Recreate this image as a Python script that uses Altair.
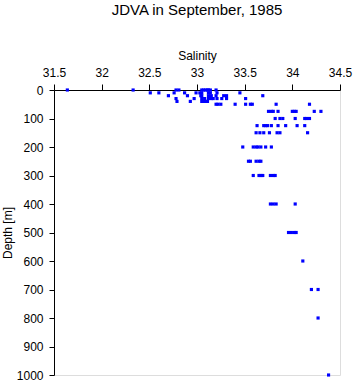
import altair as alt
import pandas as pd

# Depth levels (m) and salinity readings at each level
depth_levels = [0, 10, 20, 30, 40, 50, 75, 100, 125, 150, 200, 250, 300, 400, 500, 600, 700, 800, 1000]
sal_0 = [31.64, 32.33, 32.78, 32.81, 33.05, 33.07, 33.09, 33.11, 33.12, 33.14, 33.2]
sal_10 = [32.51, 32.6, 32.76, 32.87, 32.99, 33.03, 33.05, 33.12, 33.14, 33.21, 33.45]
sal_20 = [32.7, 32.9, 33.04, 33.05, 33.12, 33.15, 33.2, 33.28, 33.31, 33.69]
sal_30 = [32.78, 32.97, 33.05, 33.08, 33.12, 33.15, 33.17, 33.21, 33.26, 33.31, 33.51]
sal_40 = [32.79, 32.93, 33.05, 33.07, 33.09, 33.11]
sal_50 = [33.2, 33.22, 33.25, 33.4, 33.51, 33.56, 33.58, 33.83, 34.18]
sal_75 = [33.75, 33.78, 33.8, 33.85, 34.0, 34.02, 34.04, 34.23, 34.3]
sal_100 = [33.82, 33.87, 33.9, 34.03, 34.13, 34.15, 34.18]
sal_125 = [33.63, 33.7, 33.72, 33.74, 33.78, 33.85, 33.93, 34.05, 34.13]
sal_150 = [33.62, 33.66, 33.7, 33.76, 33.84, 33.87, 34.16]
sal_200 = [33.48, 33.59, 33.62, 33.64, 33.67, 33.72, 33.78]
sal_250 = [33.54, 33.56, 33.62, 33.65, 33.67]
sal_300 = [33.59, 33.65, 33.67, 33.69, 33.77, 33.8, 33.82]
sal_400 = [33.77, 33.8, 33.83, 34.03]
sal_500 = [33.96, 33.99, 34.02, 34.04]
sal_600 = [34.11]
sal_700 = [34.2, 34.27]
sal_800 = [34.27]
sal_1000 = [34.38]

sal_by_level = [sal_0, sal_10, sal_20, sal_30, sal_40, sal_50, sal_75, sal_100, sal_125,
                sal_150, sal_200, sal_250, sal_300, sal_400, sal_500, sal_600, sal_700,
                sal_800, sal_1000]

x_ticks = [31.5, 32, 32.5, 33, 33.5, 34, 34.5]
y_ticks = [0, 100, 200, 300, 400, 500, 600, 700, 800, 900, 1000]

rows = []
for d, sals in zip(depth_levels, sal_by_level):
    for s in sals:
        rows.append({"Salinity": s, "Depth": d})
df = pd.DataFrame(rows)

FONT = "Liberation Sans"

chart = alt.Chart(df).mark_square(size=10, color="#0000FF", opacity=1, filled=True).encode(
    x=alt.X("Salinity:Q",
            scale=alt.Scale(domain=[31.5, 34.5], nice=False, zero=False),
            axis=alt.Axis(orient="top", title="Salinity", values=x_ticks, format="~g",
                          grid=False, domainColor="black", tickColor="black",
                          tickSize=6, labelPadding=5, titlePadding=4,
                          labelFontSize=12, titleFontSize=12, labelFont=FONT, titleFont=FONT,
                          titleFontWeight="normal", labelColor="black", titleColor="black",
                          labelFlush=False)),
    y=alt.Y("Depth:Q",
            scale=alt.Scale(domain=[0, 1000], reverse=True, nice=False),
            axis=alt.Axis(orient="left", title="Depth [m]", values=y_ticks, format="d",
                          grid=False, domainColor="black", tickColor="black",
                          tickSize=5, labelPadding=6, titlePadding=2,
                          labelFontSize=12, titleFontSize=12, labelFont=FONT, titleFont=FONT,
                          titleFontWeight="normal", labelColor="black", titleColor="black",
                          labelFlush=False)),
).properties(
    width=286,
    height=285,
    title=alt.TitleParams("JDVA in September, 1985", font=FONT, fontSize=15,
                          fontWeight="normal", color="black", anchor="middle", offset=31),
    autosize=alt.AutoSizeParams(type="none"),
    padding={"left": 54, "top": 90, "right": 13, "bottom": 9},
).configure_view(stroke=None).configure(background="white")

chart.save("out.html", embed_options={"renderer": "svg", "actions": False})
